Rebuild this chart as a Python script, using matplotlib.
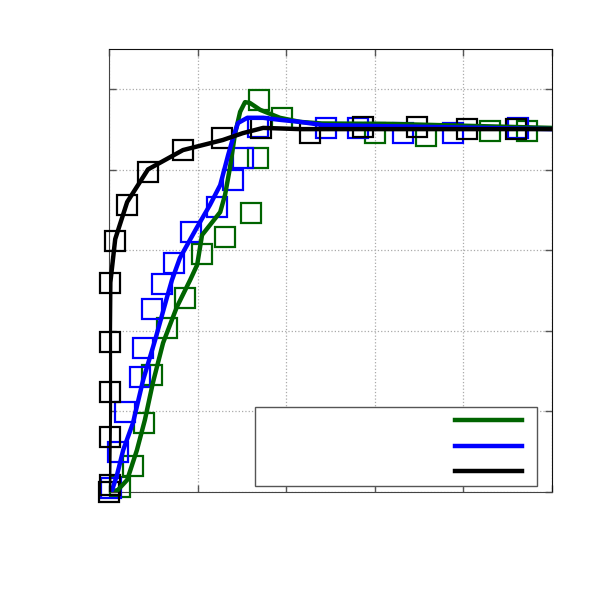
import matplotlib
matplotlib.use("Agg")
import matplotlib.pyplot as plt

# ---- data ----
black_line_x = [0.0, 0.002, 0.002, 0.003, 0.014, 0.041, 0.088, 0.167, 0.257, 0.302, 0.348, 0.431, 1.0]
black_line_y = [0.0, 0.2, 0.4, 0.52, 0.628, 0.72, 0.801, 0.849, 0.874, 0.891, 0.904, 0.901, 0.901]

blue_line_x = [0.0, 0.007, 0.018, 0.032, 0.054, 0.077, 0.104, 0.131, 0.142, 0.160, 0.198, 0.228,
               0.251, 0.269, 0.280, 0.291, 0.312, 0.348, 0.386, 0.431, 0.483, 1.0]
blue_line_y = [0.0, 0.005, 0.042, 0.104, 0.171, 0.278, 0.377, 0.484, 0.526, 0.581, 0.656, 0.713,
               0.762, 0.837, 0.879, 0.916, 0.929, 0.929, 0.924, 0.919, 0.911, 0.901]

green_line_x = [0.004, 0.02, 0.041, 0.063, 0.081, 0.099, 0.122, 0.153, 0.183, 0.199, 0.210, 0.228,
                0.251, 0.262, 0.273, 0.284, 0.296, 0.307, 0.318, 0.341, 0.386, 0.431, 0.48, 0.634, 1.0]
green_line_y = [0.0, 0.005, 0.030, 0.104, 0.179, 0.271, 0.370, 0.459, 0.526, 0.564, 0.638, 0.663,
                0.695, 0.738, 0.805, 0.887, 0.944, 0.968, 0.966, 0.949, 0.929, 0.919, 0.915, 0.914, 0.904]

black_pts_x = [0.0, 0.002, 0.002, 0.002, 0.002, 0.002, 0.014, 0.041, 0.088, 0.167, 0.255, 0.343,
               0.454, 0.573, 0.695, 0.808, 0.919]
black_pts_y = [0.0, 0.017, 0.137, 0.248, 0.372, 0.519, 0.623, 0.713, 0.795, 0.849, 0.879, 0.904,
               0.891, 0.906, 0.906, 0.901, 0.901]

blue_pts_x = [0.005, 0.020, 0.036, 0.070, 0.077, 0.097, 0.120, 0.147, 0.185, 0.244, 0.280, 0.302,
              0.336, 0.490, 0.562, 0.664, 0.777, 0.923]
blue_pts_y = [0.010, 0.099, 0.199, 0.286, 0.358, 0.454, 0.517, 0.569, 0.646, 0.708, 0.775, 0.829,
              0.906, 0.904, 0.904, 0.891, 0.891, 0.904]

green_pts_x = [0.025, 0.054, 0.079, 0.097, 0.131, 0.172, 0.210, 0.262, 0.321, 0.336, 0.339, 0.391,
               0.600, 0.716, 0.860, 0.944]
green_pts_y = [0.012, 0.065, 0.171, 0.291, 0.407, 0.482, 0.591, 0.633, 0.693, 0.829, 0.973, 0.929,
               0.891, 0.884, 0.896, 0.896]

legend_labels = [" ", " ", " "]

GREEN = "#006400"
BLUE = "#0000ff"
BLACK = "#000000"

fig = plt.figure(figsize=(5.98, 5.98), dpi=100)
ax = fig.add_axes([0.1823, 0.1773, 0.7408, 0.7408])

mk = dict(marker="s", linestyle="none", markersize=14.5, markerfacecolor="none", markeredgewidth=1.6)
ax.plot(green_pts_x, green_pts_y, markeredgecolor=GREEN, clip_on=False, zorder=3, **mk)
ax.plot(blue_pts_x, blue_pts_y, markeredgecolor=BLUE, clip_on=False, zorder=3, **mk)
ax.plot(black_pts_x, black_pts_y, markeredgecolor=BLACK, clip_on=False, zorder=3, **mk)

lg, = ax.plot(green_line_x, green_line_y, color=GREEN, lw=3.2, zorder=4, solid_joinstyle="round")
lb, = ax.plot(blue_line_x, blue_line_y, color=BLUE, lw=3.2, zorder=4, solid_joinstyle="round")
lk, = ax.plot(black_line_x, black_line_y, color=BLACK, lw=3.2, zorder=4, solid_joinstyle="round")

ax.set_xlim(0, 1.0)
ax.set_ylim(0, 1.1)
ax.set_xticks([0, 0.2, 0.4, 0.6, 0.8, 1.0])
ax.set_yticks([0, 0.2, 0.4, 0.6, 0.8, 1.0])
ax.tick_params(direction="in", length=5, width=1, colors="#555555",
               top=True, right=True,
               labelbottom=False, labelleft=False, labeltop=False, labelright=False)
ax.grid(True, linestyle=":", color="#aaaaaa", linewidth=0.9)
for s in ["left", "bottom"]:
    ax.spines[s].set_color("#444444")
for s in ["top", "right"]:
    ax.spines[s].set_color("#111111")

leg = ax.legend([lg, lb, lk], legend_labels, loc="lower left",
                bbox_to_anchor=(0.3296, 0.013, 0.6366, 0.17), mode="expand",
                markerfirst=False,
                handlelength=4.8, handletextpad=13.56, borderpad=0.52, labelspacing=0.82,
                fancybox=False, framealpha=1, edgecolor="#555555", fontsize=10,
                borderaxespad=0)
leg.get_frame().set_linewidth(1.0)

fig.savefig("out.png", dpi=100)
